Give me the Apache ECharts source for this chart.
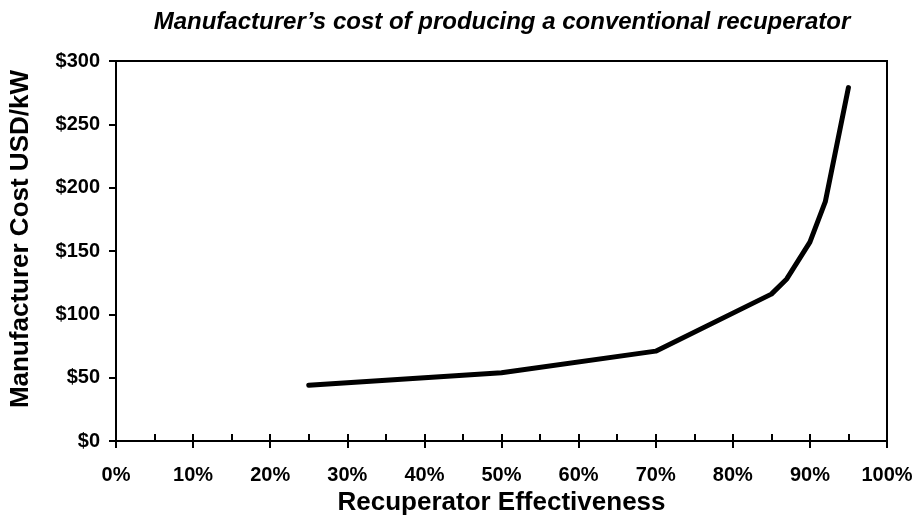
<!DOCTYPE html>
<html>
<head>
<meta charset="utf-8">
<script src="https://cdn.jsdelivr.net/npm/echarts@6/dist/echarts.min.js"></script>
<style>
  html, body { margin: 0; padding: 0; background: #fff; }
  #chart { width: 916px; height: 521px; }
</style>
</head>
<body>
<div id="chart"></div>
<script>
// Recuperator effectiveness (%) and manufacturer cost (USD/kW)
const effectiveness = [25, 50, 70, 85, 87, 90, 92, 95];
const costUsdPerKw = [44, 54, 71, 116, 128, 157, 189, 279];

const xTicks = [0, 10, 20, 30, 40, 50, 60, 70, 80, 90, 100];
const yTicks = [0, 50, 100, 150, 200, 250, 300];

const FONT = '"Liberation Sans", Arial, sans-serif';
const points = effectiveness.map((x, i) => [x, costUsdPerKw[i]]);

const chart = echarts.init(document.getElementById('chart'), null, { renderer: 'canvas' });

chart.setOption({
  backgroundColor: '#ffffff',
  animation: false,
  title: {
    text: 'Manufacturer\u2019s cost of producing a conventional recuperator',
    left: 497,
    textAlign: 'center',
    top: 5,
    textStyle: {
      fontFamily: FONT,
      fontSize: 24,
      fontWeight: 'bold',
      fontStyle: 'italic',
      color: '#000'
    }
  },
  grid: {
    left: 115,
    right: 29,
    top: 61,
    bottom: 78,
    show: true,
    borderColor: '#000',
    borderWidth: 2,
    backgroundColor: 'transparent'
  },
  xAxis: [
    {
      type: 'value',
      position: 'bottom',
      min: xTicks[0],
      max: xTicks[xTicks.length - 1],
      interval: 10,
      name: 'Recuperator Effectiveness',
      nameLocation: 'middle',
      nameGap: 36,
      nameTextStyle: { fontFamily: FONT, fontSize: 26, fontWeight: 'bold', color: '#000' },
      axisLine: { show: true, lineStyle: { color: '#000', width: 2 } },
      axisTick: { show: true, inside: true, length: 7, lineStyle: { color: '#000', width: 2 } },
      minorTick: { show: true, splitNumber: 2, length: 7, lineStyle: { color: '#000', width: 2 } },
      axisLabel: {
        margin: 24,
        formatter: v => v + '%',
        fontFamily: FONT,
        fontSize: 20,
        fontWeight: 'bold',
        color: '#000'
      },
      splitLine: { show: false }
    },
    {
      // outer halves of the major tick marks
      type: 'value',
      position: 'bottom',
      min: xTicks[0],
      max: xTicks[xTicks.length - 1],
      interval: 10,
      axisLine: { show: false },
      axisTick: { show: true, inside: false, length: 7, lineStyle: { color: '#000', width: 2 } },
      axisLabel: { show: false },
      splitLine: { show: false }
    }
  ],
  yAxis: {
    type: 'value',
    min: yTicks[0],
    max: yTicks[yTicks.length - 1],
    interval: 50,
    name: 'Manufacturer Cost USD/kW',
    nameLocation: 'middle',
    nameGap: 82,
    nameTextStyle: {
      fontFamily: FONT,
      fontSize: 26,
      fontWeight: 'bold',
      color: '#000',
      padding: [0, 0, 0, 24]
    },
    axisLine: { show: true, lineStyle: { color: '#000', width: 2 } },
    axisTick: { show: true, inside: false, length: 7, lineStyle: { color: '#000', width: 2 } },
    axisLabel: {
      margin: 16,
      formatter: v => '$' + v,
      fontFamily: FONT,
      fontSize: 20,
      fontWeight: 'bold',
      color: '#000'
    },
    splitLine: { show: false }
  },
  series: [
    {
      type: 'line',
      xAxisIndex: 0,
      data: points,
      symbol: 'none',
      smooth: false,
      lineStyle: { color: '#000', width: 5, cap: 'round', join: 'round' }
    }
  ]
});
</script>
</body>
</html>
